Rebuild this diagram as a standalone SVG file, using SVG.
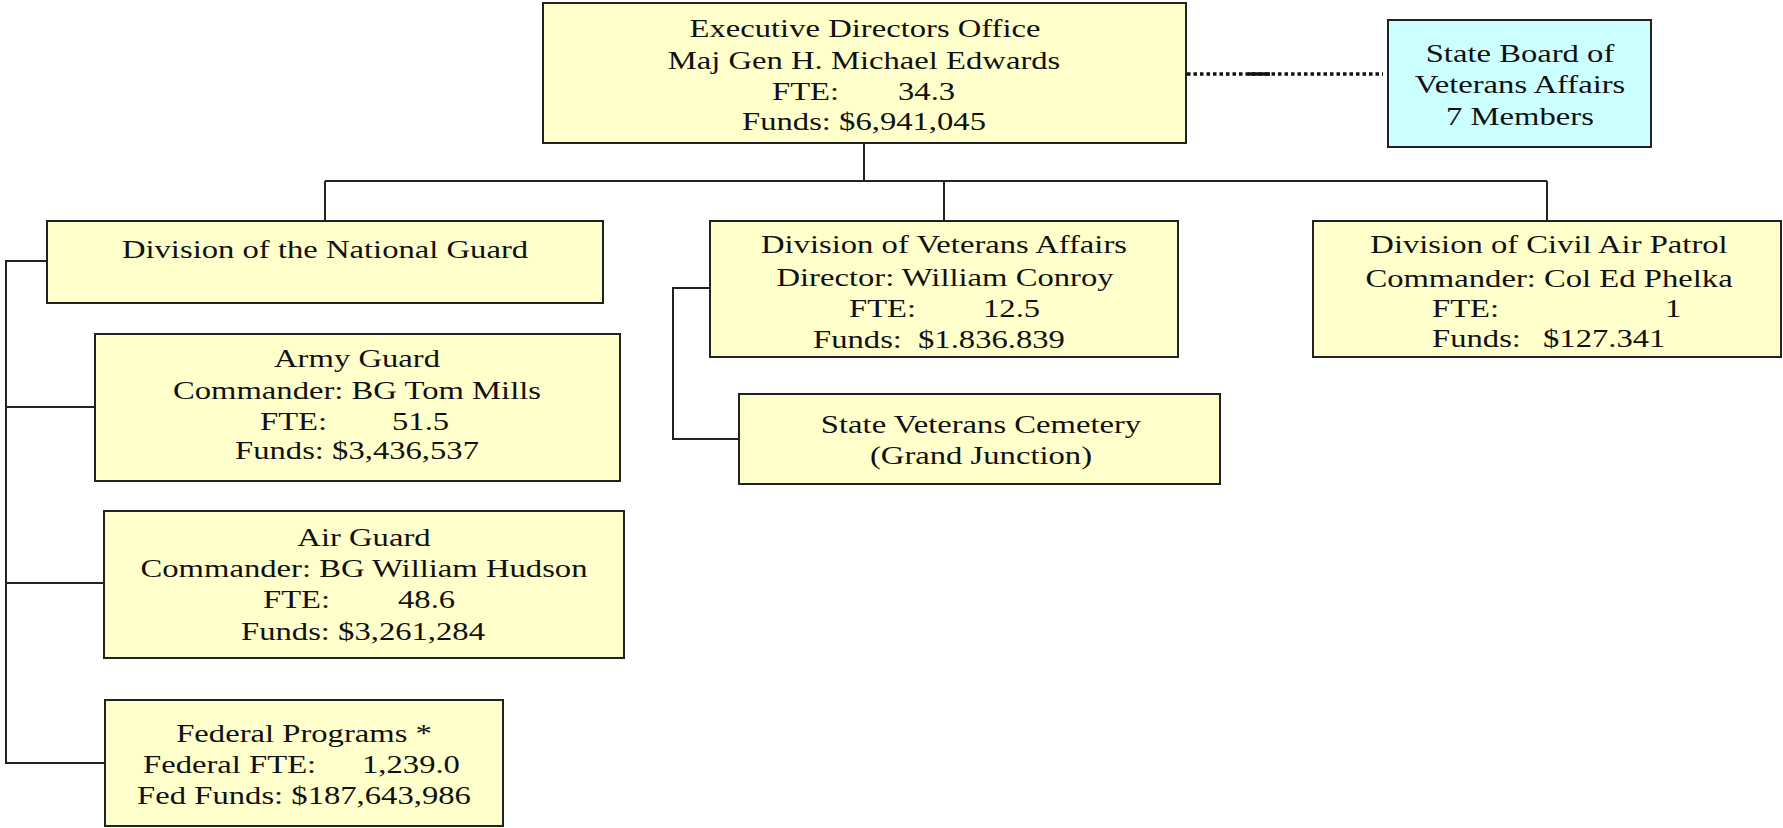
<svg xmlns="http://www.w3.org/2000/svg" width="1783" height="828" viewBox="0 0 1783 828">
<style>
.box{fill:#FFFFCC;stroke:#222;stroke-width:2}
.cyan{fill:#CCFFFF;stroke:#222;stroke-width:2}
.ln{fill:none;stroke:#222;stroke-width:2}
.dot{fill:none;stroke:#111;stroke-width:3.5;stroke-dasharray:3.5 3}
text{font-family:"Liberation Serif","Times New Roman",serif;font-size:24.5px;fill:#111}
.m{text-anchor:middle}
.s{text-anchor:start}
</style>
<rect width="1783" height="828" fill="#fff"/>
<g id="connectors">
<line class="ln" x1="864" y1="143" x2="864" y2="181"/>
<line class="ln" x1="325" y1="181" x2="1547" y2="181"/>
<line class="ln" x1="325" y1="181" x2="325" y2="221"/>
<line class="ln" x1="944" y1="181" x2="944" y2="221"/>
<line class="ln" x1="1547" y1="181" x2="1547" y2="221"/>
<polyline class="ln" points="47,261 6,261 6,763 105,763"/>
<line class="ln" x1="6" y1="407" x2="95" y2="407"/>
<line class="ln" x1="6" y1="583" x2="104" y2="583"/>
<polyline class="ln" points="710,288 673,288 673,439 739,439"/>
<line class="dot" x1="1187" y1="74" x2="1383" y2="74"/>
<line stroke="#111" stroke-width="3.5" x1="1248" y1="74" x2="1270" y2="74"/>
</g>
<g id="exec">
<rect class="box" x="543" y="3" width="643" height="140"/>
<text class="m" transform="translate(865,37) scale(1.333,1)">Executive Directors Office</text>
<text class="m" transform="translate(864,69) scale(1.333,1)">Maj Gen H. Michael Edwards</text>
<text class="s" transform="translate(772,100) scale(1.333,1)">FTE:</text>
<text class="s" transform="translate(898,100) scale(1.333,1)">34.3</text>
<text class="m" transform="translate(864,130) scale(1.333,1)">Funds: $6,941,045</text>
</g>
<g id="board">
<rect class="cyan" x="1388" y="20" width="263" height="127"/>
<text class="m" transform="translate(1520,62) scale(1.333,1)">State Board of</text>
<text class="m" transform="translate(1520,93) scale(1.333,1)">Veterans Affairs</text>
<text class="m" transform="translate(1520,125) scale(1.333,1)">7 Members</text>
</g>
<g id="natguard">
<rect class="box" x="47" y="221" width="556" height="82"/>
<text class="m" transform="translate(325,258) scale(1.333,1)">Division of the National Guard</text>
</g>
<g id="vetaffairs">
<rect class="box" x="710" y="221" width="468" height="136"/>
<text class="m" transform="translate(944,253) scale(1.333,1)">Division of Veterans Affairs</text>
<text class="m" transform="translate(945,286) scale(1.333,1)">Director: William Conroy</text>
<text class="s" transform="translate(849,317) scale(1.333,1)">FTE:</text>
<text class="s" transform="translate(983,317) scale(1.333,1)">12.5</text>
<text class="s" transform="translate(813,348) scale(1.333,1)">Funds:</text>
<text class="s" transform="translate(918,348) scale(1.333,1)">$1.836.839</text>
</g>
<g id="civilair">
<rect class="box" x="1313" y="221" width="468" height="136"/>
<text class="m" transform="translate(1549,253) scale(1.333,1)">Division of Civil Air Patrol</text>
<text class="m" transform="translate(1549,287) scale(1.333,1)">Commander: Col Ed Phelka</text>
<text class="s" transform="translate(1432,317) scale(1.333,1)">FTE:</text>
<text class="s" transform="translate(1665,317) scale(1.333,1)">1</text>
<text class="s" transform="translate(1432,347) scale(1.333,1)">Funds:</text>
<text class="s" transform="translate(1543,347) scale(1.333,1)">$127.341</text>
</g>
<g id="cemetery">
<rect class="box" x="739" y="394" width="481" height="90"/>
<text class="m" transform="translate(981,433) scale(1.333,1)">State Veterans Cemetery</text>
<text class="m" transform="translate(981,464) scale(1.333,1)">(Grand Junction)</text>
</g>
<g id="army">
<rect class="box" x="95" y="334" width="525" height="147"/>
<text class="m" transform="translate(357,367) scale(1.333,1)">Army Guard</text>
<text class="m" transform="translate(357,399) scale(1.333,1)">Commander: BG Tom Mills</text>
<text class="s" transform="translate(260,430) scale(1.333,1)">FTE:</text>
<text class="s" transform="translate(392,430) scale(1.333,1)">51.5</text>
<text class="m" transform="translate(357,459) scale(1.333,1)">Funds: $3,436,537</text>
</g>
<g id="airguard">
<rect class="box" x="104" y="511" width="520" height="147"/>
<text class="m" transform="translate(364,546) scale(1.333,1)">Air Guard</text>
<text class="m" transform="translate(364,577) scale(1.333,1)">Commander: BG William Hudson</text>
<text class="s" transform="translate(263,608) scale(1.333,1)">FTE:</text>
<text class="s" transform="translate(398,608) scale(1.333,1)">48.6</text>
<text class="m" transform="translate(363,640) scale(1.333,1)">Funds: $3,261,284</text>
</g>
<g id="federal">
<rect class="box" x="105" y="700" width="398" height="126"/>
<text class="m" transform="translate(304,742) scale(1.333,1)">Federal Programs *</text>
<text class="s" transform="translate(143,773) scale(1.333,1)">Federal FTE:</text>
<text class="s" transform="translate(362,773) scale(1.333,1)">1,239.0</text>
<text class="m" transform="translate(304,804) scale(1.333,1)">Fed Funds: $187,643,986</text>
</g>
</svg>
